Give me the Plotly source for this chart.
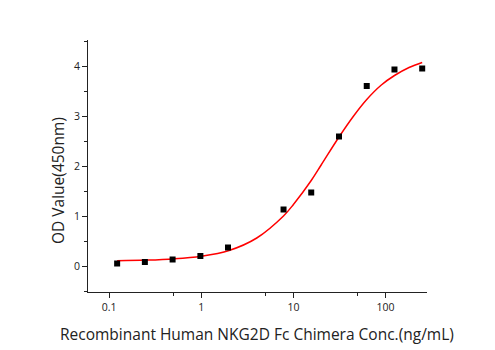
import plotly.graph_objects as go

# measured points
conc = [0.122, 0.244, 0.488, 0.977, 1.95, 7.81, 15.6, 31.25, 62.5, 125, 250]
od = [0.05, 0.08, 0.13, 0.20, 0.37, 1.13, 1.47, 2.59, 3.60, 3.93, 3.95]

# fitted curve
fit_x = [0.122, 0.25, 0.5, 1, 2, 4, 7.8, 10, 15.6, 20, 31.25, 45, 62.5, 90, 125, 180, 250]
fit_y = [0.107, 0.118, 0.142, 0.195, 0.31, 0.56, 1.00, 1.23, 1.71, 2.02, 2.58, 3.00, 3.33, 3.62, 3.81, 3.97, 4.07]

x_ticks = [0.1, 1, 10, 100]
x_tick_labels = ["0.1", "1", "10", "100"]
x_minor = [0.5, 5, 50]
y_ticks = [0, 1, 2, 3, 4]

x_title = "Recombinant Human NKG2D Fc Chimera Conc.(ng/mL)"
y_title = "OD Value(450nm)"

fig = go.Figure()
fig.add_trace(go.Scatter(x=fit_x, y=fit_y, mode="lines",
                         line=dict(color="#ff0000", width=1.5, shape="spline", smoothing=1),
                         hoverinfo="skip"))
fig.add_trace(go.Scatter(x=conc, y=od, mode="markers",
                         marker=dict(symbol="square", size=6, color="black")))

font_family = "Open Sans, Noto Sans, sans-serif"
L, R, T, B = 88, 68, 40, 58
pw, ph = 495 - L - R, 350 - T - B

fig.update_layout(
    width=495, height=350,
    margin=dict(l=L, r=R, t=T, b=B),
    paper_bgcolor="white", plot_bgcolor="white",
    showlegend=False,
    font=dict(family=font_family, color="#222", size=11),
    xaxis=dict(
        type="log", range=[-1.23, 2.45],
        showline=True, linecolor="#222", linewidth=1,
        showgrid=False, zeroline=False,
        tickmode="array", tickvals=x_ticks, ticktext=x_tick_labels,
        ticks="outside", ticklen=5, tickcolor="#222", tickwidth=1,
        minor=dict(tickmode="array", tickvals=x_minor, ticks="outside",
                   ticklen=3, tickcolor="#222", showgrid=False),
        tickfont=dict(size=10.5),
    ),
    yaxis=dict(
        range=[-0.52, 4.52],
        showline=True, linecolor="#222", linewidth=1,
        showgrid=False, zeroline=False,
        tickmode="array", tickvals=y_ticks,
        ticks="outside", ticklen=5, tickcolor="#222", tickwidth=1,
        minor=dict(dtick=0.5, ticks="outside", ticklen=3, tickcolor="#222",
                   showgrid=False),
        tickfont=dict(size=10.5),
    ),
    annotations=[
        dict(text=x_title, xref="paper", yref="paper",
             x=(257 - L) / pw, y=(350 - B - 334) / ph,
             xanchor="center", yanchor="middle", showarrow=False,
             font=dict(size=15.5, color="#222")),
        dict(text=y_title, xref="paper", yref="paper",
             x=(58 - L) / pw, y=(350 - B - 181) / ph,
             xanchor="center", yanchor="middle", showarrow=False, textangle=-90,
             font=dict(size=15.5, color="#222")),
    ],
)

fig.write_html("out.html")
